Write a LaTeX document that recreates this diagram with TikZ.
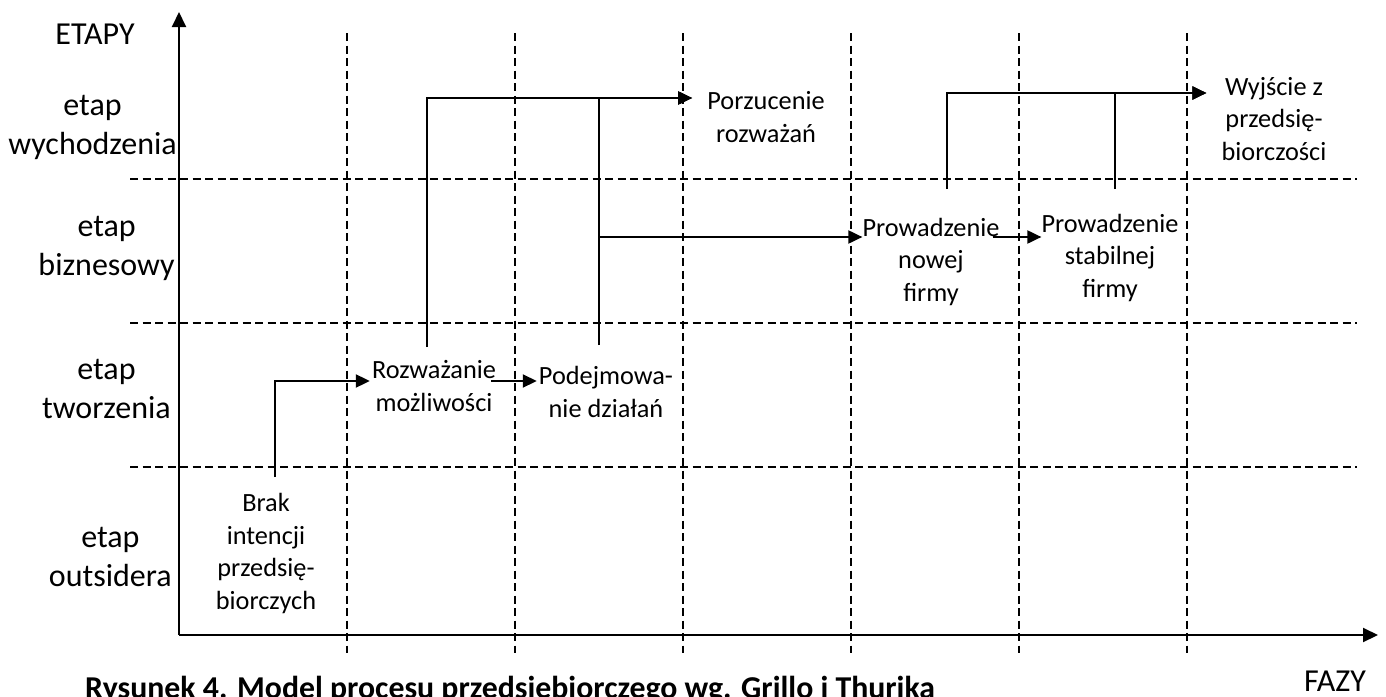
\documentclass[tikz,border=0pt]{standalone}
\usepackage{fontspec}
\setmainfont{Carlito}
\usetikzlibrary{arrows.meta,calc}

\begin{document}
\begin{tikzpicture}[x=1pt,y=-1pt,
  stage/.style={anchor=base east,align=center,inner sep=0pt,font=\fontsize{32}{39}\selectfont},
  state/.style={anchor=base,align=center,inner sep=0pt,font=\fontsize{26.3}{32.5}\selectfont},
  axislabel/.style={anchor=base,inner sep=0pt,font=\fontsize{32}{39}\selectfont},
  guide/.style={line width=1.4pt,dash pattern=on 8pt off 4.5pt},
  axis/.style={line width=2pt,-{Triangle[length=15pt,width=14pt]}},
  flow/.style={line width=2pt,-{Triangle[length=14pt,width=13pt]}}]
\useasboundingbox (0,0) rectangle (1386,696);
\clip (0,0) rectangle (1386,696);

% dashed grid
\draw[guide] (130,179) -- (1357,179);
\draw[guide] (130,323) -- (1357,323);
\draw[guide] (130,467) -- (1357,467);
\draw[guide] (347,33) -- (347,653);
\draw[guide] (515,33) -- (515,653);
\draw[guide] (683,33) -- (683,653);
\draw[guide] (851,33) -- (851,653);
\draw[guide] (1019,33) -- (1019,653);
\draw[guide] (1187,33) -- (1187,653);

% axes
\coordinate (origin) at (179,635);
\coordinate (ytip) at (179,12);
\coordinate (xtip) at (1378,635);
\draw[axis] (origin) -- (ytip);
\draw[axis] (origin) -- (xtip);
\node (etapy)[axislabel] at (95,44) {ETAPY};
\node (fazy)[axislabel] at (1335,691) {FAZY};

% stages (base = last line)
\node (wych)[stage] at (177,154) {etap\\wychodzenia};
\node (bizn)[stage] at (175,275) {etap\\biznesowy};
\node (tworz)[stage] at (171,418) {etap\\tworzenia};
\node (outs)[stage] at (172,586) {etap\\outsidera};

% states
\node (brak)[state] at (266,609) {Brak\\intencji\\przedsię-\\biorczych};
\node (rozwaz)[state] at (434,411) {Rozważanie\\możliwości};
\node (podejm)[state] at (606,417) {Podejmowa-\\nie działań};
\node (porzuc)[state] at (766,142) {Porzucenie\\rozważań};
\node (nowa)[state] at (931,301) {Prowadzenie\\nowej\\firmy};
\node (stabil)[state] at (1110,297) {Prowadzenie\\stabilnej\\firmy};
\node (wyjscie)[state] at (1274,160) {Wyjście z\\przedsię-\\biorczości};

\draw [flow] ([xshift=9pt,yshift=132pt]brak.base) |- ([xshift=-2pt,yshift=30pt]rozwaz.base west);
\draw [flow] ([xshift=-5pt,yshift=30pt]rozwaz.base east) -- ([xshift=-2pt,yshift=36pt]podejm.base west);
\draw [flow] ([xshift=-7pt,yshift=64pt]rozwaz.base) |- ([xshift=-15pt,yshift=44pt]porzuc.base west);
\draw [flow] ([xshift=-7pt,yshift=72pt]podejm.base) |- ([xshift=-15pt,yshift=44pt]porzuc.base west);
\draw [flow] ($(podejm.base |- nowa.base west)+(-7,-64)$) -- ([yshift=64pt]nowa.base west);
\draw [flow] ([xshift=-7pt,yshift=64pt]nowa.base east) -- ([yshift=60pt]stabil.base west);
\draw [flow] ([xshift=16pt,yshift=112pt]nowa.base) |- ([xshift=-15pt,yshift=67pt]wyjscie.base west);
\draw [flow] ([xshift=5pt,yshift=108pt]stabil.base) |- ([xshift=-15pt,yshift=67pt]wyjscie.base west);

\node (caption)[anchor=base west,inner sep=0pt,font=\bfseries\fontsize{31.8}{38}\selectfont] at (85,698) {Rysunek 4. Model procesu przedsiębiorczego wg. Grillo i Thurika};
\end{tikzpicture}
\end{document}
